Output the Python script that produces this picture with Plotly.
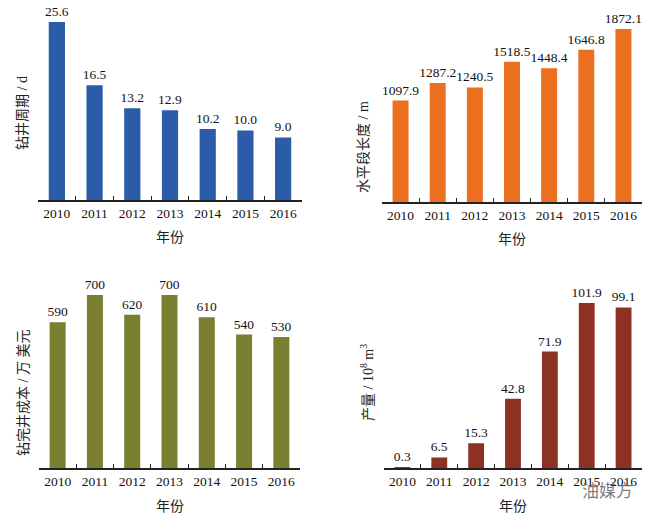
import plotly.graph_objects as go

years = ["2010", "2011", "2012", "2013", "2014", "2015", "2016"]
drill_cycle = [25.6, 16.5, 13.2, 12.9, 10.2, 10.0, 9.0]
horiz_len = [1097.9, 1287.2, 1240.5, 1518.5, 1448.4, 1646.8, 1872.1]
well_cost = [590, 700, 620, 700, 610, 540, 530]
production = [0.3, 6.5, 15.3, 42.8, 71.9, 101.9, 99.1]

W, H = 652, 516
FONT = "Liberation Serif, Times New Roman, Noto Sans CJK SC, serif"

def px(x):
    return x / W

def py(y):
    return 1 - y / H

panels = [
    # data, fmt, color, x-domain px, baseline px, top px, ymax, ytitle, ytitle pos
    (drill_cycle, "{:.1f}", "#2B5CAA", (38, 302), 200, 10, 27.33, "钻井周期 / d", (23, 113)),
    (horiz_len, "{:.1f}", "#EC6E1F", (382, 642), 202, 10, 2078, "水平段长度 / m", (363, 147)),
    (well_cost, "{:d}", "#7B7F30", (39, 300), 468, 278, 769, "钻完井成本 / 万 美元", (23, 393)),
    (production, "{:.1f}", "#8C3222", (384, 642), 468, 278, 117.3, "产量 / 10<sup>8</sup> m<sup>3</sup>", (367, 383)),
]

fig = go.Figure()
annotations = []
layout_axes = {}
for i, (vals, fmt, color, xd, base, top, ymax, ytitle, tpos) in enumerate(panels):
    n = "" if i == 0 else str(i + 1)
    fig.add_trace(go.Bar(
        x=years, y=vals, marker=dict(color=color, line=dict(width=0)),
        text=[fmt.format(v) for v in vals], textposition="outside",
        constraintext="none",
        textfont=dict(family=FONT, size=13.5, color="#111"),
        cliponaxis=False, xaxis="x" + n, yaxis="y" + n, showlegend=False,
        hoverinfo="x+y",
    ))
    layout_axes["xaxis" + n] = dict(
        domain=[px(xd[0]), px(xd[1])], anchor="y" + n, type="category",
        range=[-0.5, 6.5], tickangle=0,
        showline=True, linecolor="#222", linewidth=1.5, ticks="inside",
        ticklen=4, tickcolor="#222", tickwidth=1, tickson="boundaries",
        tickfont=dict(family=FONT, size=13.5, color="#111"), showgrid=False,
        zeroline=False, fixedrange=True,
    )
    layout_axes["yaxis" + n] = dict(
        domain=[py(base), py(top)], anchor="x" + n, range=[0, ymax],
        visible=False, fixedrange=True,
    )
    annotations.append(dict(
        text=ytitle, x=px(tpos[0]), y=py(tpos[1]), xref="paper", yref="paper",
        textangle=-90, showarrow=False, xanchor="center", yanchor="middle",
        font=dict(family=FONT, size=14, color="#222"),
    ))
    annotations.append(dict(
        text="年份", x=px((xd[0] + xd[1]) / 2), y=py(base + 38), xref="paper",
        yref="paper", showarrow=False, xanchor="center", yanchor="middle",
        font=dict(family=FONT, size=14, color="#222"),
    ))

annotations.append(dict(
    text="油媒方", x=px(607), y=py(489), xref="paper", yref="paper",
    showarrow=False, xanchor="center", yanchor="middle",
    font=dict(family="Noto Sans CJK SC", size=17, color="rgba(80,80,80,0.75)"),
))

fig.update_layout(
    width=W, height=H, margin=dict(l=0, r=0, t=0, b=0),
    paper_bgcolor="white", plot_bgcolor="white", bargap=0.57,
    annotations=annotations, **layout_axes,
)

fig.write_html(
    "out.html",
    config={"displayModeBar": False},
    post_script="document.body.style.margin='0';document.body.style.overflow='hidden';",
)
